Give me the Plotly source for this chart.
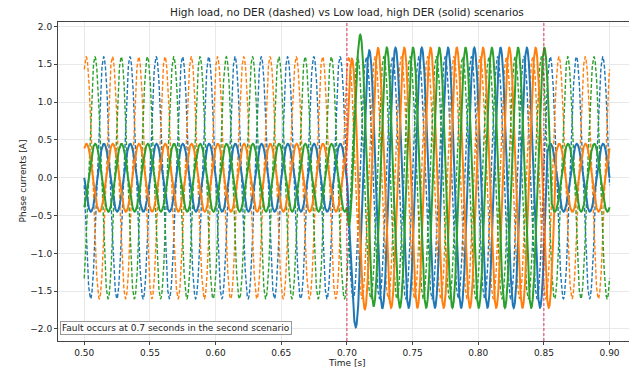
import numpy as np
import plotly.graph_objects as go

# ---------------- data ----------------
FREQUENCY_HZ = 50.0
T_START, T_END = 0.50, 0.90
phase_names = ["Phase A", "Phase B", "Phase C"]
phase_colors = ["#1f77b4", "#ff7f0e", "#2ca02c"]
phase_offset_deg = [0.0, -120.0, 120.0]

# Scenario 1: high load, no DER (dashed)
high_load_amplitude = [1.60, 1.60, 1.60]
high_load_peak_time = 0.4948

# Scenario 2: low load, high DER (solid)
low_load_amplitude = [0.45, 0.45, 0.45]
low_load_peak_time = 0.4950
fault_amplitude = [1.72, 1.72, 1.72]
fault_peak_time = 0.4970
fault_start = 0.70
fault_end = 0.85
fault_dc_tau = 0.005

x_ticks = [0.50, 0.55, 0.60, 0.65, 0.70, 0.75, 0.80, 0.85, 0.90]
y_ticks = [-2.0, -1.5, -1.0, -0.5, 0.0, 0.5, 1.0, 1.5, 2.0]

title_text = "High load, no DER (dashed) vs Low load, high DER (solid) scenarios"
note_text = "Fault occurs at 0.7 seconds in the second scenario"

# ---------------- build waveforms ----------------
t = np.linspace(T_START, T_END, 8001)
w = 2 * np.pi * FREQUENCY_HZ


def wave(amp, t_peak, off_deg, tt):
    return amp * np.cos(w * (tt - t_peak) + np.radians(off_deg))


fig = go.Figure()

for k in range(3):
    y = wave(high_load_amplitude[k], high_load_peak_time, phase_offset_deg[k], t)
    fig.add_trace(go.Scatter(x=t, y=y, mode="lines", name=phase_names[k] + " (high load)",
                             line=dict(color=phase_colors[k], width=1.4, dash="4px,2px"),
                             showlegend=False, hoverinfo="skip"))

for k in range(3):
    normal = wave(low_load_amplitude[k], low_load_peak_time, phase_offset_deg[k], t)
    fault = wave(fault_amplitude[k], fault_peak_time, phase_offset_deg[k], t)
    n0 = wave(low_load_amplitude[k], low_load_peak_time, phase_offset_deg[k], fault_start)
    f0 = wave(fault_amplitude[k], fault_peak_time, phase_offset_deg[k], fault_start)
    dc = (n0 - f0) * np.exp(-np.clip(t - fault_start, 0, None) / fault_dc_tau)
    fault_total = fault + dc
    i_end = int(np.searchsorted(t, fault_end))
    clear_t = T_END
    for i in range(i_end + 1, len(t)):
        if np.sign(fault_total[i]) != np.sign(fault_total[i - 1]):
            clear_t = t[i]
            break
    y = np.where(t < fault_start, normal, np.where(t < clear_t, fault_total, normal))
    fig.add_trace(go.Scatter(x=t, y=y, mode="lines", name=phase_names[k] + " (low load)",
                             line=dict(color=phase_colors[k], width=2.0),
                             showlegend=False, hoverinfo="skip"))

for xv in (fault_start, fault_end):
    fig.add_shape(type="line", x0=xv, x1=xv, y0=0, y1=1, xref="x", yref="paper",
                  line=dict(color="rgba(220,20,60,0.85)", width=1, dash="3px,2px"))

W, H = 629, 369
L, R, T, B = 58, 0, 22, 28
fig.update_layout(
    width=W, height=H,
    margin=dict(l=L, r=R, t=T, b=B),
    paper_bgcolor="white", plot_bgcolor="white",
    font=dict(family="DejaVu Sans", size=9, color="#222"),
    showlegend=False,
)
fig.update_xaxes(range=[0.480, 0.9148], tickvals=x_ticks,
                 ticktext=[f"{v:.2f}" for v in x_ticks],
                 showgrid=True, gridcolor="#e8e8e8", gridwidth=1,
                 showline=True, linecolor="#444", linewidth=1, mirror=True,
                 ticks="outside", ticklen=3, tickcolor="#444", zeroline=False)
fig.update_yaxes(range=[-2.159, 2.06], tickvals=y_ticks,
                 ticktext=[f"{v:.1f}".replace("-", "\u2212") for v in y_ticks],
                 showgrid=True, gridcolor="#e8e8e8", gridwidth=1,
                 showline=True, linecolor="#444", linewidth=1,
                 ticks="outside", ticklen=3, tickcolor="#444", zeroline=False)

plot_w = W - L - R
plot_h = H - T - B
axes_center = (347 - L) / plot_w
fig.add_annotation(text=title_text, x=axes_center, xref="paper", xanchor="center",
                   y=1 + (T - 12) / plot_h, yref="paper", yanchor="middle",
                   showarrow=False, font=dict(size=10.5, color="#222"))
fig.add_annotation(text="Time [s]", x=axes_center, xref="paper", xanchor="center",
                   y=-(363 - (H - B)) / plot_h, yref="paper", yanchor="middle",
                   showarrow=False, font=dict(size=9, color="#222"))
fig.add_annotation(text="Phase currents [A]", x=-(L - 22) / plot_w, xref="paper", xanchor="center",
                   y=0.5, yref="paper", yanchor="middle", textangle=-90,
                   showarrow=False, font=dict(size=9, color="#222"))
fig.add_annotation(text=note_text, x=(60 - L) / plot_w, xref="paper", xanchor="left",
                   y=-1.99, yref="y", yanchor="middle", showarrow=False,
                   font=dict(size=9, color="#222"), bgcolor="white",
                   bordercolor="#999", borderwidth=1, borderpad=1)

fig.write_html("out.html")
